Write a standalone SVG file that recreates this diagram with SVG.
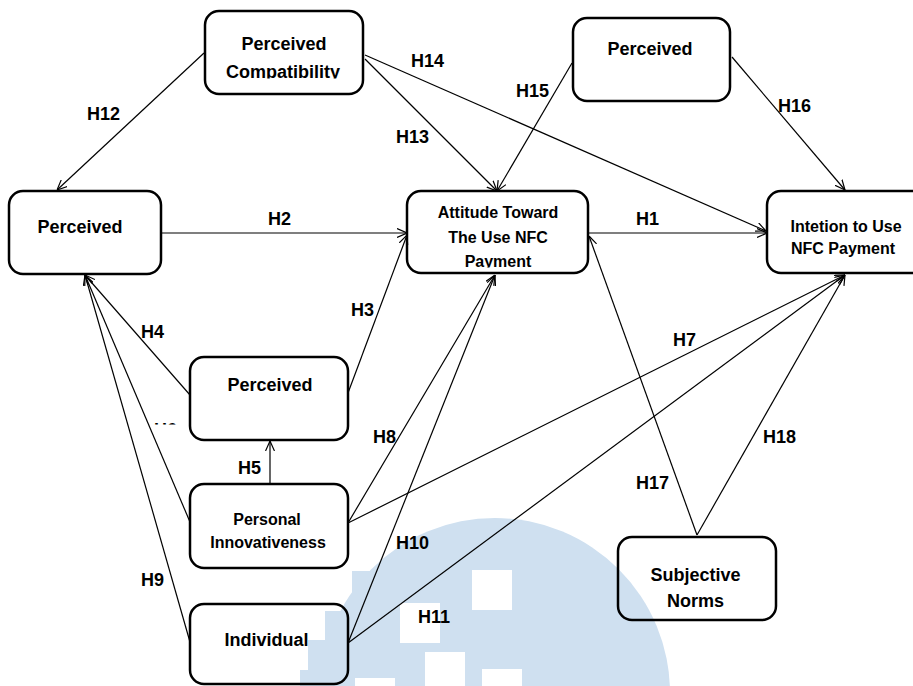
<svg xmlns="http://www.w3.org/2000/svg" width="913" height="686" viewBox="0 0 913 686">
<style>
.box{fill:none;stroke:#000;stroke-width:2.5}
.t{font-family:"Liberation Sans",Arial,sans-serif;font-weight:bold;fill:#000;text-anchor:middle}
.big{font-size:18px}
.small{font-size:16px}
.lbl{font-family:"Liberation Sans",Arial,sans-serif;font-weight:bold;font-size:18px;fill:#000}
.c{fill:none;stroke:#000;stroke-width:1.2;marker-end:url(#arr)}
.c0{fill:none;stroke:#000;stroke-width:1.2}
.wm{fill:#cfe0f0}
</style>
<defs>
<marker id="arr" viewBox="0 0 10 10" refX="10" refY="5" markerWidth="10" markerHeight="10" markerUnits="userSpaceOnUse" orient="auto">
<path d="M0,0.5 L10,5 L0,9.5" fill="none" stroke="#000" stroke-width="1.2"/>
</marker>
<clipPath id="clipCompat"><rect x="205" y="11" width="158" height="67.5"/></clipPath>
<clipPath id="clipAtt"><rect x="407" y="191" width="181" height="76.5"/></clipPath>
<clipPath id="clipH6"><rect x="150" y="422" width="35" height="2.6"/></clipPath>
</defs>
<rect x="0" y="0" width="913" height="686" fill="#fff"/>
<g id="watermark">
<circle class="wm" cx="495" cy="693" r="175"/>
<rect class="wm" x="352" y="571" width="60" height="115"/>
<rect class="wm" x="325" y="611" width="40" height="75"/>
<rect class="wm" x="308" y="640" width="30" height="46"/>
<rect class="wm" x="300" y="670" width="20" height="16"/>
<rect x="472" y="570" width="40" height="40" fill="#fff"/>
<rect x="400" y="603" width="40" height="40" fill="#fff"/>
<rect x="425" y="652" width="40" height="40" fill="#fff"/>
<rect x="482" y="669" width="40" height="40" fill="#fff"/>
<rect x="355" y="678" width="40" height="10" fill="#fff"/>
</g>
<g id="connectors">
<path class="c" d="M204,53 L57,190"/>
<path class="c" d="M365,55 L766,231"/>
<path class="c" d="M365,59 L497,191"/>
<path class="c" d="M572,63 L497,191"/>
<path class="c" d="M732,57 L845,190"/>
<path class="c" d="M161,233 L407,233"/>
<path class="c" d="M588,233 L767,233"/>
<path class="c" d="M348,393 L407,235"/>
<path class="c" d="M190,395 L85,275"/>
<path class="c" d="M190,522 L85,275"/>
<path class="c" d="M190,642 L85,275"/>
<path class="c" d="M270,484 L270,441"/>
<path class="c" d="M348,523 L495,275"/>
<path class="c" d="M348,643 L495,275"/>
<path class="c" d="M348,523 L845,275"/>
<path class="c" d="M348,643 L845,275"/>
<path class="c" d="M697,535 L845,275"/>
<path class="c" d="M697,535 L589,236"/>
</g>
<g id="labels">
<text class="lbl" x="87" y="120">H12</text>
<text class="lbl" x="411" y="67">H14</text>
<text class="lbl" x="396" y="143">H13</text>
<text class="lbl" x="516" y="97">H15</text>
<text class="lbl" x="778" y="112">H16</text>
<text class="lbl" x="268" y="225">H2</text>
<text class="lbl" x="636" y="225">H1</text>
<text class="lbl" x="351" y="316">H3</text>
<text class="lbl" x="141" y="338">H4</text>
<text class="lbl" x="673" y="346">H7</text>
<text class="lbl" x="373" y="443">H8</text>
<text class="lbl" x="763" y="443">H18</text>
<text class="lbl" x="154" y="436" clip-path="url(#clipH6)">H6</text>
<text class="lbl" x="238" y="474">H5</text>
<text class="lbl" x="636" y="489">H17</text>
<text class="lbl" x="396" y="549">H10</text>
<text class="lbl" x="141" y="586">H9</text>
<text class="lbl" x="418" y="623">H11</text>
</g>
<g id="n-compat">
<rect class="box" x="205" y="11" width="158" height="83" rx="14"/>
<g clip-path="url(#clipCompat)">
<text class="t big" x="284" y="49.5">Perceived</text>
<text class="t big" x="283" y="77.5">Compatibility</text>
</g>
</g>
<g id="n-perceived-tr">
<rect class="box" x="573" y="18" width="157" height="83" rx="14"/>
<text class="t big" x="650" y="55">Perceived</text>
</g>
<g id="n-perceived-l">
<rect class="box" x="9" y="191" width="152" height="83" rx="14"/>
<text class="t big" x="80" y="233">Perceived</text>
</g>
<g id="n-attitude">
<rect class="box" x="407" y="191" width="181" height="82" rx="14"/>
<g clip-path="url(#clipAtt)">
<text class="t small" x="498" y="218">Attitude Toward</text>
<text class="t small" x="498" y="242.5">The Use NFC</text>
<text class="t small" x="498" y="266.5">Payment</text>
</g>
</g>
<g id="n-intention">
<rect class="box" x="767" y="191" width="170" height="82" rx="14"/>
<text class="t small" x="846" y="231.5">Intetion to Use</text>
<text class="t small" x="843" y="254">NFC Payment</text>
</g>
<g id="n-perceived-m">
<rect class="box" x="190" y="357" width="158" height="83" rx="14"/>
<text class="t big" x="270" y="391">Perceived</text>
</g>
<g id="n-personal">
<rect class="box" x="190" y="484" width="158" height="84" rx="14"/>
<text class="t small" x="267" y="524.5">Personal</text>
<text class="t small" x="268" y="548">Innovativeness</text>
</g>
<g id="n-individual">
<rect class="box" x="190" y="604" width="158" height="80" rx="14"/>
<text class="t big" x="266.5" y="646">Individual</text>
</g>
<g id="n-subjective">
<rect class="box" x="618" y="537" width="158" height="83" rx="14"/>
<text class="t big" x="695.5" y="581">Subjective</text>
<text class="t big" x="695.5" y="607">Norms</text>
</g>
</svg>
